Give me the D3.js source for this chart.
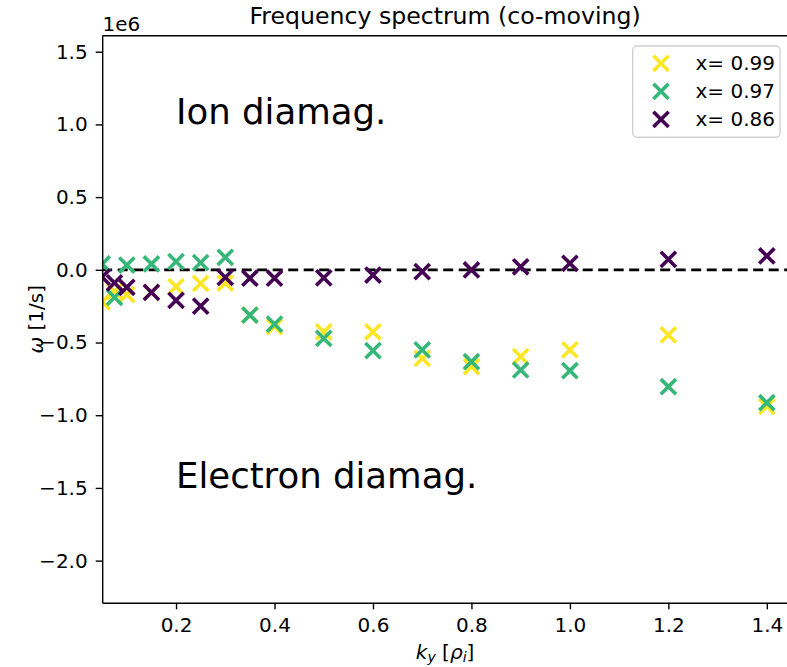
<!DOCTYPE html>
<html>
<head>
<meta charset="utf-8">
<script src="https://cdn.jsdelivr.net/npm/d3@7"></script>
<style>
    body { margin: 0; background: #fff; }
    svg { display: block; font-family: "DejaVu Sans", sans-serif; }
</style>
</head>
<body>
<div id="chart"></div>
<script>
// Wavenumbers k_y [rho_i] shared by every radial position.
const kValues = [0.05, 0.075, 0.1, 0.15, 0.2, 0.25, 0.3, 0.35, 0.4, 0.5, 0.6, 0.7, 0.8, 0.9, 1.0, 1.2, 1.4];

// Frequencies omega [1e6 1/s], one array per radial position.
const omega099 = [-0.22, -0.15, -0.17, -0.155, -0.116, -0.093, -0.091, -0.311, -0.39, -0.426, -0.426, -0.609, -0.666, -0.597, -0.551, -0.448, -0.94];
const omega097 = [0.04, -0.19, 0.033, 0.04, 0.056, 0.049, 0.086, -0.311, -0.373, -0.471, -0.556, -0.551, -0.632, -0.689, -0.694, -0.804, -0.914];
const omega086 = [-0.05, -0.09, -0.12, -0.155, -0.21, -0.25, -0.052, -0.058, -0.058, -0.055, -0.036, -0.013, -0.001, 0.021, 0.045, 0.072, 0.095];

const seriesLabels = ['x= 0.99', 'x= 0.97', 'x= 0.86'];
const seriesColors = ['#fde725', '#35b779', '#440154'];

const xTicks = [0.2, 0.4, 0.6, 0.8, 1.0, 1.2, 1.4];
const yTicks = [-2.0, -1.5, -1.0, -0.5, 0.0, 0.5, 1.0, 1.5];

const FONT = 20;

let width = 787, height = 667;
let plotLeft = 102.2, plotRight = 788, plotTop = 35.7, plotBottom = 602.8;

let series = [omega099, omega097, omega086].map((values, i) => ({
    label: seriesLabels[i],
    color: seriesColors[i],
    points: kValues.map((k, j) => ({ k: k, w: values[j] }))
}));

let svg = d3.select('#chart').append('svg')
    .attr('width', width)
    .attr('height', height);

let x = d3.scaleLinear().domain([0.05, 1.443]).range([plotLeft, plotRight]);
let y = d3.scaleLinear().domain([-2.29, 1.61]).range([plotBottom, plotTop]);

let minus = s => s.replace('-', '\u2212');

svg.append('clipPath')
    .attr('id', 'plot-clip')
  .append('rect')
    .attr('x', plotLeft)
    .attr('y', plotTop)
    .attr('width', plotRight - plotLeft)
    .attr('height', plotBottom - plotTop);

// Zero line.
svg.append('line')
    .attr('x1', plotLeft)
    .attr('x2', plotRight)
    .attr('y1', y(0))
    .attr('y2', y(0))
    .attr('stroke', '#000')
    .attr('stroke-width', 2.8)
    .attr('stroke-dasharray', '10,5.5');

// Cross markers.
const ARM = 7.6;
let cross = (g, color) => {
    g.append('path')
        .attr('d', `M${-ARM},${-ARM}L${ARM},${ARM}M${-ARM},${ARM}L${ARM},${-ARM}`)
        .attr('stroke', color)
        .attr('stroke-width', 3.6)
        .attr('fill', 'none');
};

let plot = svg.append('g').attr('clip-path', 'url(#plot-clip)');
series.forEach(s => {
    plot.append('g')
        .selectAll('g')
        .data(s.points)
      .enter().append('g')
        .attr('transform', d => `translate(${x(d.k)},${y(d.w)})`)
        .each(function () { cross(d3.select(this), s.color); });
});

// Axes.
let xAxis = svg.append('g')
    .attr('transform', `translate(0,${plotBottom})`)
    .call(d3.axisBottom(x).tickValues(xTicks).tickFormat(d3.format('.1f')).tickSize(6.5).tickPadding(8.2).tickSizeOuter(0));

let yAxis = svg.append('g')
    .attr('transform', `translate(${plotLeft},0)`)
    .call(d3.axisLeft(y).tickValues(yTicks).tickFormat(d => minus(d3.format('.1f')(d))).tickSize(6.5).tickPadding(8).tickSizeOuter(0));

[xAxis, yAxis].forEach(a => {
    a.selectAll('text').attr('font-size', FONT).attr('fill', '#000').attr('font-family', 'DejaVu Sans');
    a.selectAll('line').attr('stroke', '#000').attr('stroke-width', 1.4);
    a.select('.domain').attr('stroke', '#000').attr('stroke-width', 1.4);
});

svg.append('line')
    .attr('x1', plotLeft)
    .attr('x2', plotRight)
    .attr('y1', plotTop)
    .attr('y2', plotTop)
    .attr('stroke', '#000')
    .attr('stroke-width', 1.4);

// Offset text, title and labels.
svg.append('text')
    .attr('x', 102.5)
    .attr('y', 30.7)
    .attr('font-size', FONT)
    .text('1e6');

svg.append('text')
    .attr('x', (plotLeft + plotRight) / 2)
    .attr('y', 24)
    .attr('text-anchor', 'middle')
    .attr('font-size', 23.6)
    .text('Frequency spectrum (co-moving)');

let xLabel = svg.append('text')
    .attr('x', (plotLeft + plotRight) / 2)
    .attr('y', 658.5)
    .attr('text-anchor', 'middle')
    .attr('font-size', FONT);
xLabel.append('tspan').attr('font-style', 'italic').text('k');
xLabel.append('tspan').attr('font-style', 'italic').attr('font-size', FONT * 0.7).attr('dy', 3.5).text('y');
xLabel.append('tspan').attr('dy', -3.5).text(' [');
xLabel.append('tspan').attr('font-style', 'italic').text('\u03c1');
xLabel.append('tspan').attr('font-style', 'italic').attr('font-size', FONT * 0.7).attr('dy', 3.5).text('i');
xLabel.append('tspan').attr('dy', -3.5).text(']');

let yLabel = svg.append('text')
    .attr('transform', `translate(42.5,${(plotTop + plotBottom) / 2}) rotate(-90)`)
    .attr('text-anchor', 'middle')
    .attr('font-size', FONT);
yLabel.append('tspan').attr('font-style', 'italic').text('\u03c9');
yLabel.append('tspan').text(' [1/s]');

// Region annotations.
svg.append('text')
    .attr('x', x(0.2))
    .attr('y', y(1.0))
    .attr('font-size', 35.5)
    .text('Ion diamag.');

svg.append('text')
    .attr('x', x(0.2))
    .attr('y', y(-1.5))
    .attr('font-size', 35.5)
    .text('Electron diamag.');

// Legend.
let legend = svg.append('g');
legend.append('rect')
    .attr('x', 632.7)
    .attr('y', 46)
    .attr('width', 147.3)
    .attr('height', 91.3)
    .attr('rx', 4)
    .attr('fill', '#fff')
    .attr('fill-opacity', 0.8)
    .attr('stroke', '#d0d0d0')
    .attr('stroke-width', 1.4);

let legendRows = legend.selectAll('.legend-row')
    .data(series)
  .enter().append('g')
    .attr('class', 'legend-row')
    .attr('transform', (d, i) => `translate(661,${63.3 + i * 28})`);

legendRows.each(function (d) { cross(d3.select(this), d.color); });

legendRows.append('text')
    .attr('x', 34.5)
    .attr('y', 7)
    .attr('font-size', FONT)
    .text(d => d.label);
</script>
</body>
</html>
